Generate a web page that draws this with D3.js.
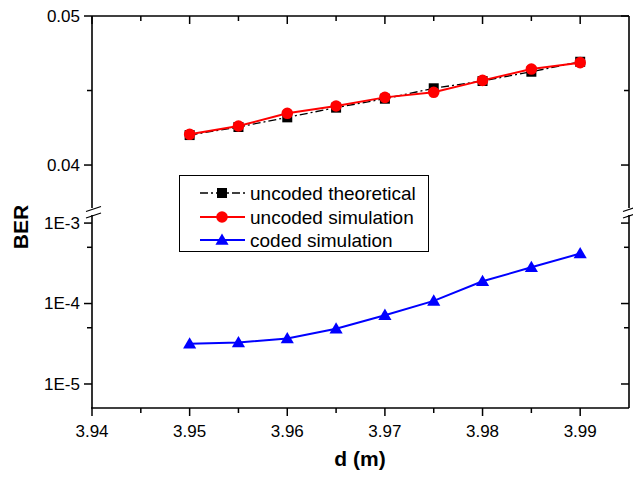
<!DOCTYPE html>
<html><head><meta charset="utf-8">
<script src="https://cdn.jsdelivr.net/npm/d3@7"></script>
<style>body{margin:0;background:#fff}svg{display:block}text{font-family:Arial,"Liberation Sans",sans-serif}</style>
</head><body><svg id="c" width="633" height="478"></svg>
<script>
const distances = [3.95,3.955,3.96,3.965,3.97,3.975,3.98,3.985,3.99];
const uncodedTheoretical = [0.04201,0.04255,0.04320,0.04385,0.04445,0.04515,0.04564,0.04626,0.04693];
const uncodedSimulation = [0.04206,0.04262,0.04347,0.04396,0.04454,0.04488,0.04568,0.04644,0.04687];
const codedSimulation = [3.16e-5,3.28e-5,3.67e-5,4.86e-5,7.16e-5,1.08e-4,1.89e-4,2.82e-4,4.18e-4];
const xTicks = [3.94,3.95,3.96,3.97,3.98,3.99];
const xMinor = [3.945,3.955,3.965,3.975,3.985];
const upperTicks = [0.04,0.05];
const upperTickLabels = ["0.04","0.05"];
const upperMinor = [0.045];
const lowerTicks = [1e-3,1e-4,1e-5];
const lowerTickLabels = ["1E-3","1E-4","1E-5"];
const lowerMinor = [5e-4,5e-5];
const legendLabels = ["uncoded theoretical","uncoded simulation","coded simulation"];

const svg = d3.select("#c");
const L = 92, R = 629, T = 16, B = 408, upperBottom = 208, lowerTop = 215;
const x = d3.scaleLinear().domain([3.94,3.995]).range([L,R]);
const yU = d3.scaleLinear().domain([0.03705,0.05]).range([upperBottom+1,T]);
const yL = d3.scaleLog().domain([5.03e-6,1.26e-3]).range([B,lowerTop]);

const ax = svg.append("g").attr("stroke","#000").attr("fill","none");
// axis lines
ax.append("line").attr("x1",L).attr("x2",R).attr("y1",T).attr("y2",T).attr("stroke-width",1.6);
ax.append("line").attr("x1",L-1).attr("x2",R).attr("y1",B).attr("y2",B).attr("stroke-width",1.6);
[L,R].forEach(xx=>{
  ax.append("line").attr("x1",xx).attr("x2",xx).attr("y1",T).attr("y2",upperBottom).attr("stroke-width",1.6);
  ax.append("line").attr("x1",xx).attr("x2",xx).attr("y1",lowerTop).attr("y2",B).attr("stroke-width",1.6);
  [upperBottom+1, lowerTop+0.5].forEach(yy=>{
    ax.append("line").attr("x1",xx-6).attr("y1",yy+2.5).attr("x2",xx+9).attr("y2",yy-2.5).attr("stroke-width",1.3);
  });
});
// x ticks
xTicks.forEach(v=>{
  ax.append("line").attr("x1",x(v)).attr("x2",x(v)).attr("y1",B).attr("y2",B+8).attr("stroke-width",1.5);
  ax.append("line").attr("x1",x(v)).attr("x2",x(v)).attr("y1",T).attr("y2",T+8).attr("stroke-width",1.5);
});
xMinor.forEach(v=>{
  ax.append("line").attr("x1",x(v)).attr("x2",x(v)).attr("y1",B).attr("y2",B+5).attr("stroke-width",1.5);
  ax.append("line").attr("x1",x(v)).attr("x2",x(v)).attr("y1",T).attr("y2",T+5).attr("stroke-width",1.5);
});
const ticksY = (vals, sc, len)=>vals.forEach(v=>{
  ax.append("line").attr("x1",L-len).attr("x2",L).attr("y1",sc(v)).attr("y2",sc(v)).attr("stroke-width",1.5);
  ax.append("line").attr("x1",R-len).attr("x2",R).attr("y1",sc(v)).attr("y2",sc(v)).attr("stroke-width",1.5);
});
ticksY(upperTicks,yU,8); ticksY(upperMinor,yU,5);
ticksY(lowerTicks,yL,8); ticksY(lowerMinor,yL,5);

const lab = svg.append("g").attr("font-size",17).attr("fill","#000");
xTicks.forEach(v=>lab.append("text").attr("x",x(v)).attr("y",437).attr("text-anchor","middle").text(d3.format(".2f")(v)));
upperTicks.forEach((v,i)=>lab.append("text").attr("x",80).attr("y",yU(v)).attr("dy","0.35em").attr("text-anchor","end").text(upperTickLabels[i]));
lowerTicks.forEach((v,i)=>lab.append("text").attr("x",80).attr("y",yL(v)).attr("dy","0.35em").attr("text-anchor","end").text(lowerTickLabels[i]));

svg.append("text").attr("x",360).attr("y",466).attr("text-anchor","middle").attr("font-size",21).attr("font-weight","bold").text("d (m)");
svg.append("text").attr("transform","translate(28,227) rotate(-90)").attr("text-anchor","middle").attr("font-size",21).attr("font-weight","bold").text("BER");

// data
const lineU = d3.line().x((d,i)=>x(distances[i])).y(d=>yU(d));
const lineL = d3.line().x((d,i)=>x(distances[i])).y(d=>yL(d));
const sq = d3.symbol().type(d3.symbolSquare).size(100);
const ci = d3.symbol().type(d3.symbolCircle).size(105);
const tr = d3.symbol().type(d3.symbolTriangle).size(75);

svg.append("path").attr("d",lineU(uncodedTheoretical)).attr("fill","none").attr("stroke","#000").attr("stroke-width",1.3).attr("stroke-dasharray","8,3,2,3");
svg.append("g").selectAll("path").data(uncodedTheoretical).join("path").attr("d",sq).attr("fill","#000")
  .attr("transform",(d,i)=>`translate(${x(distances[i])},${yU(d)})`);
svg.append("path").attr("d",lineU(uncodedSimulation)).attr("fill","none").attr("stroke","#ff0000").attr("stroke-width",2);
svg.append("g").selectAll("path").data(uncodedSimulation).join("path").attr("d",ci).attr("fill","#ff0000")
  .attr("transform",(d,i)=>`translate(${x(distances[i])},${yU(d)})`);
svg.append("path").attr("d",lineL(codedSimulation)).attr("fill","none").attr("stroke","#0000ff").attr("stroke-width",2);
svg.append("g").selectAll("path").data(codedSimulation).join("path").attr("d",tr).attr("fill","#0000ff")
  .attr("transform",(d,i)=>`translate(${x(distances[i])},${yL(d)+1})`);

// legend
const lg = svg.append("g");
lg.append("rect").attr("x",179.5).attr("y",175.5).attr("width",249).attr("height",76).attr("fill","#fff").attr("stroke","#000").attr("stroke-width",1);
const lys = [193,217,240];
const styles = [
  {c:"#000",w:1.3,da:"8,3,2,3",sym:sq},
  {c:"#ff0000",w:2,da:null,sym:ci},
  {c:"#0000ff",w:2,da:null,sym:tr}
];
legendLabels.forEach((t,i)=>{
  const s = styles[i];
  lg.append("line").attr("x1",200).attr("x2",245).attr("y1",lys[i]).attr("y2",lys[i]).attr("stroke",s.c).attr("stroke-width",s.w).attr("stroke-dasharray",s.da);
  lg.append("path").attr("d",s.sym).attr("fill",s.c).attr("transform",`translate(222,${lys[i]+(i===2?1:0)})`);
  lg.append("text").attr("x",250).attr("y",lys[i]).attr("dy","0.35em").attr("font-size",19).text(t);
});
</script></body></html>
